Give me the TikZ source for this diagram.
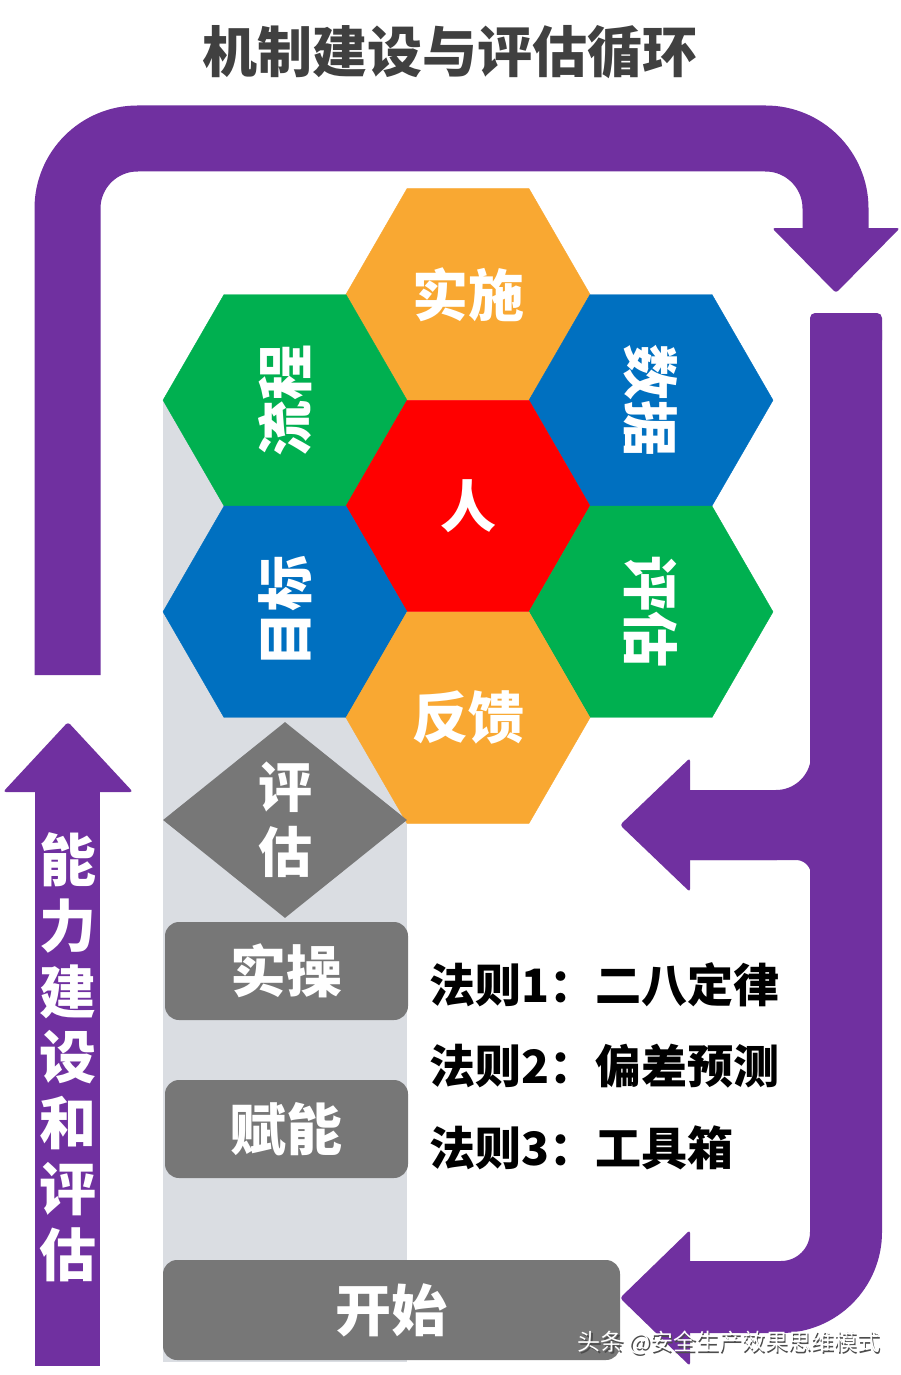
\documentclass[tikz,border=0pt]{standalone}
\usepackage{fontspec}
\usepackage{xcolor}
\usetikzlibrary{shapes.geometric,positioning}
\newfontfamily\cjk{Noto Sans CJK SC}
\definecolor{loopviolet}{HTML}{7030A0}
\definecolor{hexorange}{HTML}{F9A832}
\definecolor{hexgreen}{HTML}{00B050}
\definecolor{hexblue}{HTML}{0070C0}
\definecolor{hexred}{HTML}{FF0000}
\definecolor{boxgray}{HTML}{777777}
\definecolor{colgray}{HTML}{DADDE2}
\definecolor{titlegray}{HTML}{404040}
\tikzset{
	hexcell/.style={regular polygon, regular polygon sides=6, minimum size=244pt, inner sep=0pt,
		line width=0.4pt, text=white, font=\cjk\bfseries\fontsize{56}{56}\selectfont},
	stagebox/.style={rounded corners=14pt, fill=boxgray, inner sep=0pt, text=white,
		font=\cjk\bfseries\fontsize{56}{56}\selectfont},
	ruletext/.style={anchor=west, inner sep=0pt, text=black, font=\cjk\bfseries\fontsize{46}{46}\selectfont},
	loopband/.style={draw=loopviolet, line cap=butt},
	loophead/.style={fill=loopviolet, rounded corners=3pt}
}

\begin{document}
\begin{tikzpicture}[x=1pt, y=-1pt]
		\fill[white] (0,0) rectangle (901,1375);
		\useasboundingbox (0,0) rectangle (901,1375);
		
		\node[text=titlegray, font=\cjk\bfseries\fontsize{55}{55}\selectfont] (title) at (450,52) {机制建设与评估循环};
		
		% grey column behind the cells
		\fill[colgray] (163,402) rectangle (407,1362);
		
		\foreach \name/\cx/\cy/\col/\ang/\word in {
			shishi/468/294.3/hexorange/0/实施,
			liucheng/285/400.2/hexgreen/90/流程,
			shuju/651/400.2/hexblue/-90/数据,
			ren/468/506/hexred/0/人,
			mubiao/285/611.8/hexblue/90/目标,
			pinggu/651/611.8/hexgreen/-90/评估,
			fankui/468/717.7/hexorange/0/反馈} {
			\node[hexcell, fill=\col, draw=\col] (\name) at (\cx,\cy) {\rotatebox{\ang}{\word}};
		}
		
		\node[diamond, fill=boxgray, minimum width=244pt, minimum height=196pt, inner sep=0pt,
			text=white, align=center, font=\cjk\bfseries\fontsize{54}{65}\selectfont] (check) at (285,820) {评\\估};
		
		\node[stagebox, minimum width=243pt, minimum height=98pt] (shicao) at (286.5,971) {实操};
		\node[stagebox, minimum width=243pt, minimum height=98pt] (funeng) at (286.5,1129) {赋能};
		\node[stagebox, minimum width=457pt, minimum height=100pt] (kaishi) at (391.5,1310) {开始};
		
		\node[ruletext] (rule1) at (429,985) {法则1：二八定律};
		\node[ruletext] (rule2) at (429,1066) {法则2：偏差预测};
		\node[ruletext] (rule3) at (429,1148) {法则3：工具箱};
		
		% big loop over the top
		\draw[loopband, line width=66pt, rounded corners=70pt] (67.5,675) -- (67.5,138.5) -- (835.5,138.5) -- (835.5,229);
		\fill[loophead] (772,228) -- (900,228) -- (836,293) -- cycle;
		
		% right side, two arrows back to the left
		\fill[loopviolet, rounded corners=5pt] (810,313) rectangle (882,345);
		\draw[loopband, line width=72pt, rounded corners=65pt] (846,330) -- (846,1297) -- (689,1297);
		\fill[loophead] (690,1230) -- (690,1366) -- (620,1298) -- cycle;
		\draw[loopband, line width=70pt, rounded corners=70pt] (846,700) -- (846,825) -- (689,825);
		\draw[loopband, line width=70pt, rounded corners=50pt] (689,825) -- (846,825) -- (846,920);
		\fill[loophead] (690,758) -- (690,892) -- (620,825) -- cycle;
		
		% upward arrow on the left
		\fill[loopviolet] (35,790) rectangle (100,1366);
		\fill[loophead] (3,792) -- (133,792) -- (68,722) -- cycle;
		\foreach \ch [count=\i] in {能,力,建,设,和,评,估} {
			\node[text=white, inner sep=0pt, font=\cjk\bfseries\fontsize{57}{57}\selectfont] (up\i) at (67.5,{794+65.8*\i}) {\ch};
		}
		
		\node[text=black!70, inner sep=0pt, font=\cjk\fontsize{23}{23}\selectfont] (markshade) at (730.5,1344.5) {头条 @安全生产效果思维模式};
		\node[text=white, inner sep=0pt, font=\cjk\fontsize{23}{23}\selectfont] (mark) at (729,1343) {头条 @安全生产效果思维模式};
	\end{tikzpicture}
\end{document}
